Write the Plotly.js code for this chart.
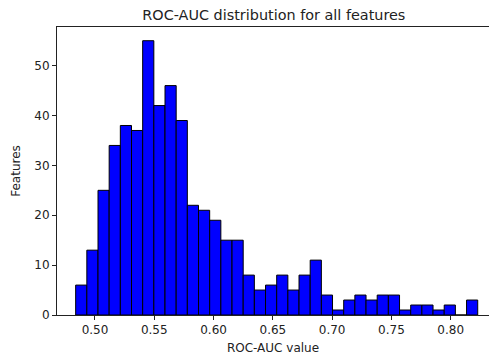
<!DOCTYPE html>
<html>
<head>
<meta charset="utf-8">
<script src="https://cdn.plot.ly/plotly-3.0.1.min.js"></script>
<style>html,body{margin:0;padding:0;background:#fff;}#chart{width:489px;height:358px;}</style>
</head>
<body>
<div id="chart"></div>
<script>
// Histogram of ROC-AUC values (36 equal-width bins)
var binStart = 0.4837;
var binWidth = 0.009419;
var counts = [6, 13, 25, 34, 38, 37, 55, 42, 46, 39, 22, 21, 19, 15, 15, 8, 5, 6, 8, 5, 8, 11, 4, 1, 3, 4, 3, 4, 4, 1, 2, 2, 1, 2, 0, 3];
var xTickVals = [0.50, 0.55, 0.60, 0.65, 0.70, 0.75, 0.80];
var xTickText = ['0.50', '0.55', '0.60', '0.65', '0.70', '0.75', '0.80'];
var yTickVals = [0, 10, 20, 30, 40, 50];

var centers = counts.map(function (c, i) { return binStart + (i + 0.5) * binWidth; });
var widths = counts.map(function () { return binWidth; });

var trace = {
  type: 'bar',
  x: centers,
  y: counts,
  width: widths,
  marker: { color: '#0000ff', line: { color: '#000000', width: 1 } },
  hoverinfo: 'x+y'
};

var font = 'DejaVu Sans, sans-serif';
var layout = {
  width: 489,
  height: 358,
  margin: { l: 57, r: 0, t: 27, b: 43 },
  paper_bgcolor: '#ffffff',
  plot_bgcolor: '#ffffff',
  showlegend: false,
  bargap: 0,
  font: { family: font, size: 12, color: '#222222' },
  title: {
    text: 'ROC-AUC distribution for all features',
    font: { family: font, size: 14.4, color: '#222222' },
    x: 0.56, xanchor: 'center',
    y: 1 - 15 / 358, yanchor: 'middle', yref: 'container'
  },
  xaxis: {
    range: [0.46796, 0.8323],
    tickvals: xTickVals,
    ticktext: xTickText,
    ticks: 'outside', ticklen: 4, tickwidth: 1, tickcolor: '#222222',
    showline: true, linecolor: '#222222', linewidth: 1, mirror: true,
    showgrid: false, zeroline: false,
    tickfont: { family: font, size: 12, color: '#222222' },
    title: { text: 'ROC-AUC value', font: { family: font, size: 12, color: '#222222' }, standoff: 7 }
  },
  yaxis: {
    range: [0, 57.75],
    tickvals: yTickVals,
    ticks: 'outside', ticklen: 4, tickwidth: 1, tickcolor: '#222222',
    showline: true, linecolor: '#222222', linewidth: 1, mirror: false,
    showgrid: false, zeroline: false,
    tickfont: { family: font, size: 12, color: '#222222' },
    title: { text: 'Features', font: { family: font, size: 12, color: '#222222' }, standoff: 11 }
  }
};

Plotly.newPlot('chart', [trace], layout, { displayModeBar: false, staticPlot: true });
</script>
</body>
</html>
